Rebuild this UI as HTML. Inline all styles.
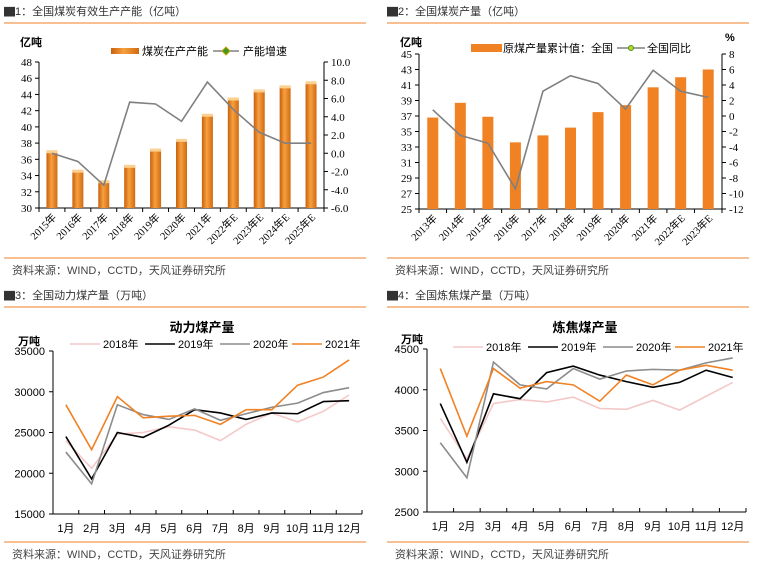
<!DOCTYPE html>
<html><head><meta charset="utf-8"><style>
body{margin:0;background:#fff;}
svg{display:block;font-family:"Liberation Sans","Noto Sans CJK SC",sans-serif;}
</style></head><body>
<svg id="s" width="765" height="565" viewBox="0 0 765 565">
<defs>
<linearGradient id="bg" x1="0" x2="1" y1="0" y2="0"><stop offset="0" stop-color="#c8600c"/><stop offset="0.45" stop-color="#f7a040"/><stop offset="1" stop-color="#d06a10"/></linearGradient>
</defs>
</svg>
<script>
const c1Cats=["2015年","2016年","2017年","2018年","2019年","2020年","2021年","2022年E","2023年E","2024年E","2025年E"];
const c1Bars=[37,34.6,33.3,35.2,37.2,38.4,41.5,43.5,44.5,45,45.5];
const c1Line=[0.0,-0.9,-3.5,5.6,5.4,3.5,7.8,4.8,2.3,1.1,1.1];
const c1LTicks=[30,32,34,36,38,40,42,44,46,48];
const c1RTicks=["-6.0","-4.0","-2.0","0.0","2.0","4.0","6.0","8.0","10.0"];
const c2Cats=["2013年","2014年","2015年","2016年","2017年","2018年","2019年","2020年","2021年","2022年E","2023年E"];
const c2Bars=[36.8,38.7,36.9,33.6,34.5,35.5,37.5,38.4,40.7,42,43];
const c2Line=[0.8,-2.5,-3.5,-9.4,3.2,5.2,4.2,0.9,5.9,3.2,2.4];
const c2LTicks=[25,27,29,31,33,35,37,39,41,43,45];
const c2RTicks=[-12,-10,-8,-6,-4,-2,0,2,4,6,8];
const months=["1月","2月","3月","4月","5月","6月","7月","8月","9月","10月","11月","12月"];
const years=["2018年","2019年","2020年","2021年"];
const yColors=["#f4c8c8","#000000","#8c8c8c","#f08224"];
const t3_2018=[24000,20600,24800,25000,25700,25300,24000,26000,27400,26300,27600,29600];
const t3_2019=[24500,19300,25000,24400,25900,27800,27400,26600,27400,27300,28800,28900];
const t3_2020=[22600,18700,28400,27200,26600,27900,26500,27300,28100,28600,29900,30500];
const t3_2021=[28400,22900,29400,26800,27000,27100,26000,27800,27800,30800,31800,33900];
const t3Ticks=[15000,20000,25000,30000,35000];
const t4_2018=[3650,3150,3830,3880,3850,3910,3770,3760,3870,3750,3920,4090];
const t4_2019=[3830,3110,3950,3890,4210,4290,4180,4100,4030,4090,4240,4150];
const t4_2020=[3350,2920,4340,4060,4010,4260,4130,4230,4250,4240,4330,4390];
const t4_2021=[4260,3430,4260,4020,4100,4060,3860,4180,4060,4240,4300,4240];
const t4Ticks=[2500,3000,3500,4000,4500];

const S=document.getElementById('s');
function el(tag,attrs,txt){const e=document.createElementNS('http://www.w3.org/2000/svg',tag);for(const k in attrs)e.setAttribute(k,attrs[k]);if(txt!==undefined)e.textContent=txt;S.appendChild(e);return e;}

function frame(x0,title,yTop){
  let e=el('text',{x:x0+4,y:yTop+15,'font-size':11,fill:'#333'},title);
  
  
  e=el('line',{x1:x0+4,x2:x0+366,y1:yTop+23,y2:yTop+23,stroke:'#f08224','stroke-width':1});
  
  
}
function footer(x0,y){
  let e=el('line',{x1:x0+4,x2:x0+366,y1:y,y2:y,stroke:'#f08224','stroke-width':1});
  
  
  e=el('text',{x:x0+12,y:y+16,'font-size':11,fill:'#444'},'资料来源：WIND，CCTD，天风证券研究所');
  
  
}

function barChart(o){
  const {L,R,T,B,cats,bars,line,lmin,lmax,lt,rmin,rmax,rt,useGrad}=o;
  const ly=v=>B-(v-lmin)/(lmax-lmin)*(B-T);
  const ry=v=>B-(v-rmin)/(rmax-rmin)*(B-T);
  const cw=(R-L)/cats.length;
  const cx=i=>L+cw*(i+0.5);
  let e=el('path',{d:`M${L},${T}V${B}H${R}V${T}`,fill:'none',stroke:'#000','stroke-width':1});
  
  
  lt.forEach(v=>{const y=ly(+v);el('line',{x1:L-4,x2:L,y1:y,y2:y,stroke:'#000'});
    e=el('text',{x:L-7,y:y+4,'font-size':11,'text-anchor':'end','font-family':'Liberation Serif',fill:'#000'},v);
    
    });
  rt.forEach(v=>{const y=ry(+v);el('line',{x1:R,x2:R+4,y1:y,y2:y,stroke:'#000'});
    e=el('text',{x:R+7,y:y+4,'font-size':11,'font-family':'Liberation Serif',fill:'#000'},v);
    
    });
  for(let i=0;i<=cats.length;i++){el('line',{x1:L+cw*i,x2:L+cw*i,y1:B,y2:B+4,stroke:'#000'});}
  bars.forEach((v,i)=>{const y=ly(v);
    e=el('rect',{x:cx(i)-5.5,y:y,width:11,height:B-y,fill:useGrad?'url(#bg)':'#f08224'});
    
    
    if(useGrad){el('rect',{x:cx(i)-5.5,y:y-1,width:11,height:3,fill:'#fbd090'});}
  });
  e=el('polyline',{points:line.map((v,i)=>cx(i)+','+ry(v)).join(' '),fill:'none',stroke:'#808080','stroke-width':1.6});
  
  
  cats.forEach((c,i)=>{e=el('text',{transform:`translate(${cx(i)+5},${B+10}) rotate(-45)`,'font-size':10.5,'text-anchor':'end','font-family':'Liberation Serif',fill:'#000'},c);
    
    });
}

function lineChart(o){
  const {L,R,T,B,min,max,ticks,series,title,titleY,legY,x0}=o;
  const y=v=>B-(v-min)/(max-min)*(B-T);
  const cw=(R-L)/months.length;
  const cx=i=>L+cw*(i+0.5);
  let e=el('path',{d:`M${L},${T}V${B}H${R}`,fill:'none',stroke:'#000','stroke-width':1});
  
  
  ticks.forEach(v=>{const yy=y(v);el('line',{x1:L-4,x2:L,y1:yy,y2:yy,stroke:'#000'});
    e=el('text',{x:L-8,y:yy+4,'font-size':11,'text-anchor':'end',fill:'#000'},v);
    
    });
  for(let i=1;i<=months.length;i++){el('line',{x1:L+cw*i,x2:L+cw*i,y1:B,y2:B-4,stroke:'#000'});}
  months.forEach((m,i)=>{e=el('text',{x:cx(i),y:B+18,'font-size':11,'text-anchor':'middle',fill:'#000'},m);
    
    });
  series.forEach((s,k)=>{e=el('polyline',{points:s.map((v,i)=>cx(i)+','+y(v)).join(' '),fill:'none',stroke:yColors[k],'stroke-width':1.6});
    
    });
  e=el('text',{x:x0+202,y:titleY,'font-size':13,'font-weight':'bold','text-anchor':'middle',fill:'#000'},title);
  
  
  e=el('text',{x:x0+18,y:T-6,'font-size':11,'font-weight':'bold',fill:'#000'},'万吨');
  
  
  const lx=[x0+70,x0+145,x0+220,x0+292];
  years.forEach((yr,k)=>{el('line',{x1:lx[k],x2:lx[k]+30,y1:legY,y2:legY,stroke:yColors[k],'stroke-width':1.6});
    e=el('text',{x:lx[k]+33,y:legY+4,'font-size':11,fill:'#000'},yr);
    
    });
}

// Panel 1
frame(0,'▇1：全国煤炭有效生产产能（亿吨）',0);
barChart({L:39,R:324,T:62,B:208,cats:c1Cats,bars:c1Bars,line:c1Line,lmin:30,lmax:48,lt:c1LTicks.map(String),rmin:-6,rmax:10,rt:c1RTicks,useGrad:true});
let e=el('text',{x:20,y:46,'font-size':11,'font-weight':'bold'},'亿吨');


el('rect',{x:111,y:48,width:28,height:6,fill:'url(#bg)'});
e=el('text',{x:142,y:55,'font-size':11},'煤炭在产产能');


el('line',{x1:213,x2:239,y1:51,y2:51,stroke:'#808080','stroke-width':1.6});
el('path',{d:'M226,47L230,51L226,55L222,51Z',fill:'#3a9a20',stroke:'#c8a000'});
e=el('text',{x:243,y:55,'font-size':11},'产能增速');


footer(0,258);

// Panel 2
frame(383,'▇2：全国煤炭产量（亿吨）',0);
barChart({L:419,R:722,T:54,B:209,cats:c2Cats,bars:c2Bars,line:c2Line,lmin:25,lmax:45,lt:c2LTicks.map(String),rmin:-12,rmax:8,rt:c2RTicks.map(String),useGrad:false});
e=el('text',{x:400,y:46,'font-size':11,'font-weight':'bold'},'亿吨');


e=el('text',{x:725,y:41,'font-size':11,'font-weight':'bold'},'%');


el('rect',{x:471,y:44,width:31,height:8,fill:'#f08224'});
e=el('text',{x:503,y:52,'font-size':11},'原煤产量累计值：全国');


el('line',{x1:617,x2:645,y1:48,y2:48,stroke:'#808080','stroke-width':1.6});
el('circle',{cx:631,cy:48,r:2.5,fill:'#c8d020',stroke:'#3a9a20'});
e=el('text',{x:647,y:52,'font-size':11},'全国同比');


footer(383,258);

// Panel 3
frame(0,'▇3：全国动力煤产量（万吨）',284);
lineChart({L:53,R:362,T:351,B:514,min:15000,max:35000,ticks:t3Ticks,series:[t3_2018,t3_2019,t3_2020,t3_2021],title:'动力煤产量',titleY:332,legY:344,x0:0});
footer(0,542);

// Panel 4
frame(383,'▇4：全国炼焦煤产量（万吨）',284);
lineChart({L:427,R:746,T:349,B:512,min:2500,max:4500,ticks:t4Ticks,series:[t4_2018,t4_2019,t4_2020,t4_2021],title:'炼焦煤产量',titleY:332,legY:347,x0:383});
footer(383,542);
</script>
</body></html>
